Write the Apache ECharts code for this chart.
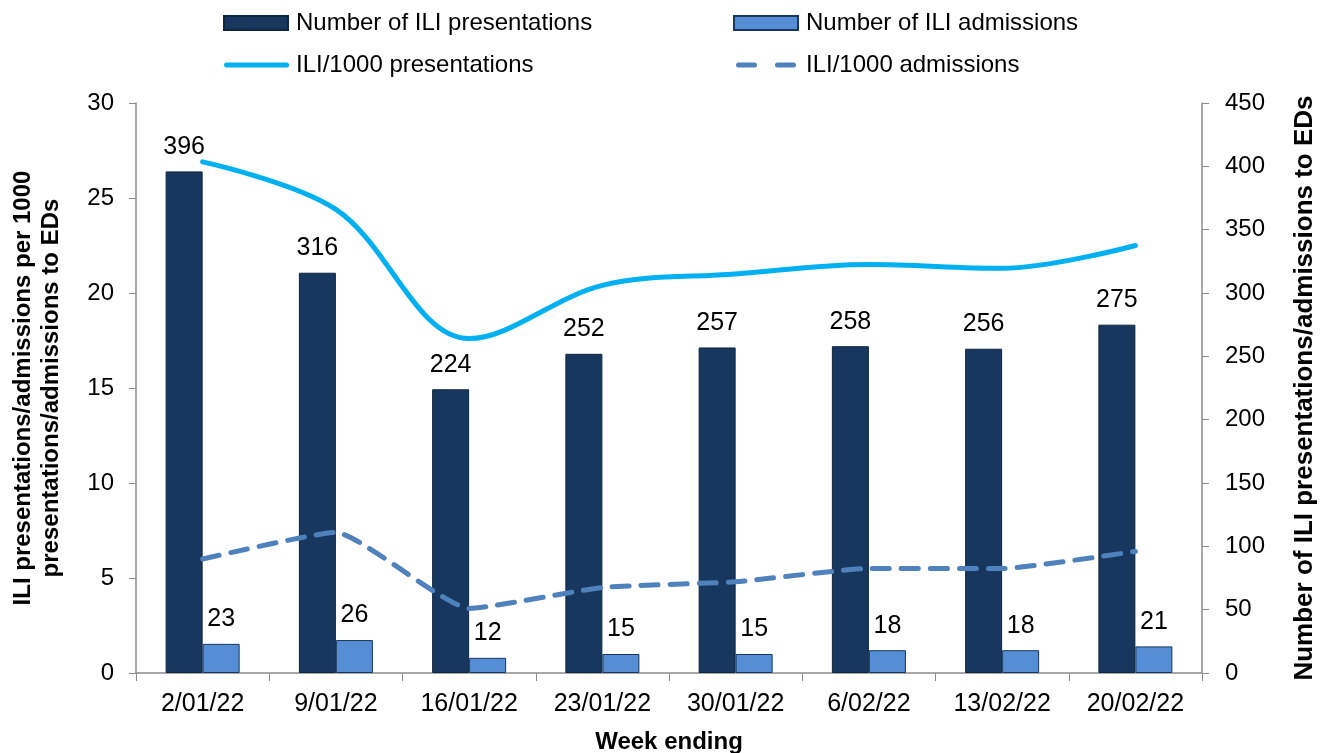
<!DOCTYPE html>
<html>
<head>
<meta charset="utf-8">
<script src="https://cdn.jsdelivr.net/npm/echarts@6/dist/echarts.min.js"></script>
<style>html,body{margin:0;padding:0;background:#fff;}#c{width:1327px;height:753px;}</style>
</head>
<body>
<div id="c"></div>
<script>
const categories = ['2/01/22','9/01/22','16/01/22','23/01/22','30/01/22','6/02/22','13/02/22','20/02/22'];
const presentations = [396, 316, 224, 252, 257, 258, 256, 275];
const admissions = [23, 26, 12, 15, 15, 18, 18, 21];
const rtPresentations = [26.9, 24.4, 17.6, 20.4, 21.0, 21.5, 21.3, 22.5];
const rtAdmissions = [6.0, 7.4, 3.4, 4.5, 4.8, 5.5, 5.5, 6.4];

const FONT = '"Liberation Sans", Arial, sans-serif';
const chart = echarts.init(document.getElementById('c'), null, {renderer: 'canvas'});
const axisGray = '#8c8c8c';
const solidIcon = 'path://M0,0 M67,14 M2.5,4.5 H62.5 A2.5,2.5 0 0 1 62.5,9.5 H2.5 A2.5,2.5 0 0 1 2.5,4.5 Z';
const dashIcon = 'path://M0,0 M67,14 M4.5,4.5 H20.5 A2.5,2.5 0 0 1 20.5,9.5 H4.5 A2.5,2.5 0 0 1 4.5,4.5 Z M43.5,4.5 H59.5 A2.5,2.5 0 0 1 59.5,9.5 H43.5 A2.5,2.5 0 0 1 43.5,4.5 Z';
const barIcon = 'path://M0,0 H64 V14 H0 Z M67,0 L67,0.01 Z';
const legendText = {fontSize: 24, fontFamily: FONT, color: '#000'};
chart.setOption({
  animation: false,
  textStyle: {fontFamily: FONT, color: '#000'},
  legend: [
    {data: [{name: 'Number of ILI presentations', icon: barIcon}, {name: 'ILI/1000 presentations', icon: solidIcon}],
     orient: 'vertical', left: 223, top: 11, padding: 0,
     itemWidth: 67, itemHeight: 14, itemGap: 18, textStyle: legendText},
    {data: [{name: 'Number of ILI admissions', icon: barIcon}, {name: 'ILI/1000 admissions', icon: dashIcon}],
     orient: 'vertical', left: 733, top: 11, padding: 0,
     itemWidth: 67, itemHeight: 14, itemGap: 18, textStyle: legendText}
  ],
  grid: {left: 136, right: 125, top: 103, bottom: 80, containLabel: false, outerBoundsMode: 'none'},
  xAxis: {
    type: 'category', data: categories, boundaryGap: true,
    name: 'Week ending', nameLocation: 'middle', nameGap: 57,
    nameTextStyle: {fontSize: 24, fontWeight: 'bold', fontFamily: FONT, color: '#000'},
    axisLine: {lineStyle: {color: axisGray, width: 1.5}},
    axisTick: {show: true, length: 8, lineStyle: {color: axisGray}},
    axisLabel: {fontSize: 25, color: '#000', margin: 19, fontFamily: FONT}
  },
  yAxis: [
    {type: 'value', min: 0, max: 30, interval: 5, position: 'left',
     name: 'ILI presentations/admissions per 1000\npresentations/admissions to EDs', nameLocation: 'middle', nameGap: 71,
     nameTextStyle: {fontSize: 24, fontWeight: 'bold', fontFamily: FONT, color: '#000', lineHeight: 28},
     axisLine: {show: true, lineStyle: {color: axisGray, width: 1.5}},
     axisTick: {show: true, length: 7, lineStyle: {color: axisGray}},
     axisLabel: {fontSize: 24, color: '#000', margin: 22, fontFamily: FONT},
     splitLine: {show: false}},
    {type: 'value', min: 0, max: 450, interval: 50, position: 'right',
     name: 'Number of ILI presentations/admissions to EDs', nameLocation: 'middle', nameGap: 90, nameRotate: 90,
     nameTextStyle: {fontSize: 26, fontWeight: 'bold', fontFamily: FONT, color: '#000'},
     axisLine: {show: true, lineStyle: {color: axisGray, width: 1.5}},
     axisTick: {show: true, length: 7, lineStyle: {color: axisGray}},
     axisLabel: {fontSize: 24, color: '#000', margin: 23, fontFamily: FONT},
     splitLine: {show: false}}
  ],
  series: [
    {name: 'Number of ILI presentations', type: 'bar', yAxisIndex: 1, data: presentations,
     barWidth: 37, barGap: '0%',
     itemStyle: {color: '#17375E', borderColor: '#0f2640', borderWidth: 1},
     label: {show: true, position: 'top', distance: 12, fontSize: 25, color: '#000', fontFamily: FONT}},
    {name: 'Number of ILI admissions', type: 'bar', yAxisIndex: 1, data: admissions,
     barWidth: 37, barGap: '0%',
     itemStyle: {color: '#558ED5', borderColor: '#17375E', borderWidth: 1},
     label: {show: true, position: 'top', distance: 12, fontSize: 25, color: '#000', fontFamily: FONT}},
    {name: 'ILI/1000 presentations', type: 'line', yAxisIndex: 0, data: rtPresentations,
     smooth: 0.35, symbol: 'none', z: 5,
     lineStyle: {color: '#00B0F0', width: 5, cap: 'round'}, itemStyle: {color: '#00B0F0', borderWidth: 0}},
    {name: 'ILI/1000 admissions', type: 'line', yAxisIndex: 0, data: rtAdmissions,
     smooth: 0.15, symbol: 'none', z: 5,
     lineStyle: {color: '#4F81BD', width: 5, type: [17, 12], cap: 'round'}, itemStyle: {color: '#4F81BD', borderWidth: 0}}
  ]
});
</script>
</body>
</html>
